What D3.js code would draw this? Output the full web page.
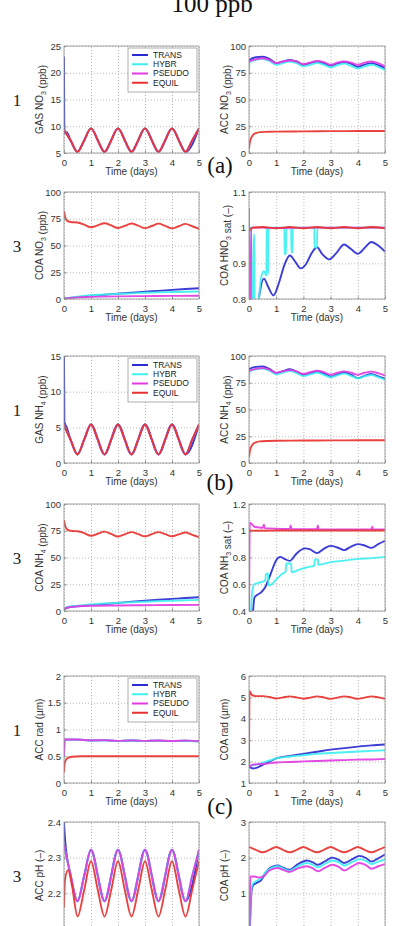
<!DOCTYPE html>
<html>
<head>
<meta charset="utf-8">
<script src="https://cdn.jsdelivr.net/npm/d3@7"></script>
<style>
  body { margin: 0; background: #fff; }
  svg { display: block; }
</style>
</head>
<body>
<div id="fig"></div>
<script>
// quarter-day time grid used by the periodic curves
const tq = [0, 0.25, 0.5, 0.75, 1, 1.25, 1.5, 1.75, 2, 2.25, 2.5, 2.75, 3, 3.25, 3.5, 3.75, 4, 4.25, 4.5, 4.75, 5];
const zip = (t, v) => t.map((d, i) => [d, v[i]]);

const seriesNames = ["TRANS", "HYBR", "PSEUDO", "EQUIL"];
const seriesColors = ["#2b2bd2", "#3ff0f0", "#e23ce2", "#e8322f"];
const xTicks = [0, 1, 2, 3, 4, 5];

// ---- (a) nitrate ----
const gasNO3Equil = zip(tq, [9.3, 7.3, 5.2, 7.4, 9.6, 7.4, 5.2, 7.4, 9.6, 7.4, 5.2, 7.4, 9.6, 7.4, 5.2, 7.4, 9.6, 7.4, 5.2, 7.4, 9.6]);
const gasNO3Trans = [[0, 23], [0.015, 8.7], [0.1, 8.9], [0.25, 7.3], [0.5, 5.2], [0.75, 7.4], [1, 9.6], [1.5, 5.2], [2, 9.6], [2.5, 5.2], [3, 9.6], [3.5, 5.2], [4, 9.6], [4.5, 5.2], [5, 9.6]];

const accNO3Trans = [[0, 75], [0.01, 87], [0.25, 89.5], [0.5, 90], [0.75, 88], [1, 84], [1.25, 85.5], [1.5, 87], [1.75, 85.5], [2, 82.5], [2.25, 84], [2.5, 85.5], [2.75, 84], [3, 81.5], [3.25, 83.5], [3.5, 85], [3.75, 83.5], [4, 80.5], [4.25, 82.5], [4.5, 84], [4.75, 82], [5, 79.5]];
const accNO3Hybr = [[0, 74], [0.01, 85], [0.25, 87], [0.5, 88], [0.75, 86], [1, 82.5], [1.25, 84], [1.5, 85.5], [1.75, 84], [2, 81], [2.25, 82.5], [2.5, 84], [2.75, 82.5], [3, 80], [3.25, 82], [3.5, 83.5], [3.75, 81.5], [4, 79], [4.25, 81], [4.5, 82.5], [4.75, 80.5], [5, 77.5]];
const accNO3Pseudo = [[0, 84], [0.01, 85.5], [0.25, 87.5], [0.5, 88.5], [0.75, 87], [1, 84], [1.25, 85.5], [1.5, 86.5], [1.75, 85.5], [2, 83], [2.25, 84.5], [2.5, 86], [2.75, 85], [3, 82.5], [3.25, 84.5], [3.5, 85.5], [3.75, 84.5], [4, 82.5], [4.25, 84.5], [4.5, 85.5], [4.75, 84], [5, 81]];
const accNO3Equil = [[0, 4], [0.03, 10], [0.08, 14], [0.15, 17], [0.25, 18.5], [0.4, 19.5], [0.7, 19.8], [1, 20], [2, 20.2], [3, 20.4], [4, 20.5], [5, 20.5]];

const coaNO3Trans = [[0, 0.5], [0.5, 1.8], [1, 3], [1.5, 4], [2, 5], [2.5, 5.9], [3, 6.8], [3.5, 7.6], [4, 8.5], [4.5, 9.3], [5, 10]];
const coaNO3Hybr = [[0, 0.5], [0.5, 2.2], [1, 3.5], [1.5, 4.2], [2, 4.8], [2.5, 5.3], [3, 5.8], [3.5, 6.2], [4, 6.5], [4.5, 6.8], [5, 7]];
const coaNO3Pseudo = [[0, 0.3], [0.5, 1.5], [1, 2], [2, 2.5], [3, 2.7], [4, 2.9], [5, 3]];
const coaNO3Equil = [[0, 82], [0.04, 77], [0.12, 73], [0.25, 72], [0.5, 71.5], [0.75, 69.5], [1, 67], [1.25, 68.8], [1.5, 70.8], [1.75, 68.8], [2, 66.3], [2.25, 68.3], [2.5, 70.6], [2.75, 68.5], [3, 66.2], [3.25, 68.2], [3.5, 70.4], [3.75, 68.3], [4, 66], [4.25, 68], [4.5, 70.2], [4.75, 68], [5, 65.6]];

const satHNO3Trans = [[0, 0.6], [0.3, 0.76], [0.4, 0.82], [0.55, 0.857], [0.7, 0.835], [0.9, 0.81], [1.1, 0.845], [1.3, 0.895], [1.5, 0.922], [1.7, 0.905], [1.9, 0.886], [2.1, 0.898], [2.3, 0.928], [2.5, 0.945], [2.7, 0.925], [2.95, 0.911], [3.2, 0.928], [3.5, 0.953], [3.75, 0.94], [4, 0.927], [4.25, 0.943], [4.5, 0.96], [4.75, 0.95], [5, 0.933]];
const satHNO3Hybr = [[0, 1.0], [0.09, 1.0], [0.1, 0.7], [0.16, 0.7], [0.17, 0.98], [0.2, 0.98], [0.21, 0.7], [0.35, 0.79], [0.45, 0.862], [0.55, 0.878], [0.64, 0.865], [0.65, 1.0], [0.68, 1.0], [0.69, 0.87], [0.71, 0.87], [0.72, 1.0], [1.3, 1.0], [1.31, 0.925], [1.36, 0.925], [1.37, 1.0], [1.55, 1.0], [1.56, 0.93], [1.6, 0.93], [1.61, 1.0], [2.4, 1.0], [2.41, 0.945], [2.5, 0.945], [2.51, 1.0], [5, 1.0]];
const satHNO3Pseudo = [[0, 1.055], [0.02, 0.75], [0.06, 0.75], [0.08, 1.0], [0.5, 1.0], [1, 0.999], [2, 1.0], [3, 1.0], [4, 1.0], [5, 1.0]];
const satHNO3Equil = [[0, 0.99], [0.05, 0.996], [0.15, 1.0], [0.5, 1.002], [1, 0.998], [1.5, 1.002], [2, 0.998], [2.5, 1.002], [3, 0.998], [3.5, 1.002], [4, 0.998], [4.5, 1.002], [5, 0.998]];

// ---- (b) ammonium ----
const gasNH4Equil = zip(tq, [5.3, 3.2, 1.2, 3.3, 5.4, 3.3, 1.2, 3.3, 5.4, 3.3, 1.2, 3.3, 5.4, 3.3, 1.2, 3.3, 5.4, 3.3, 1.2, 3.3, 5.4]);
const gasNH4Trans = [[0, 15], [0.015, 5.8], [0.1, 5.0], [0.25, 3.2], [0.5, 1.2], [0.75, 3.3], [1, 5.4], [1.5, 1.2], [2, 5.4], [2.5, 1.2], [3, 5.4], [3.5, 1.2], [4, 5.4], [4.5, 1.2], [5, 5.4]];

const accNH4Trans = [[0, 75], [0.01, 87.6], [0.25, 89.8], [0.5, 90.2], [0.75, 88], [1, 84], [1.25, 85.8], [1.5, 87.6], [1.75, 85.5], [2, 82.4], [2.25, 84], [2.5, 85.5], [2.75, 83.6], [3, 80.8], [3.25, 82.8], [3.5, 84.6], [3.75, 82.5], [4, 79.3], [4.25, 81.5], [4.5, 83.3], [4.75, 81], [5, 78.8]];
const accNH4Hybr = [[0, 75], [0.01, 85.5], [0.25, 87.5], [0.5, 88.3], [0.75, 86.3], [1, 82.8], [1.25, 84.5], [1.5, 86], [1.75, 84], [2, 81.2], [2.25, 82.8], [2.5, 84.2], [2.75, 82.4], [3, 80], [3.25, 81.9], [3.5, 83.5], [3.75, 81.5], [4, 79], [4.25, 80.9], [4.5, 82.3], [4.75, 80.2], [5, 77.8]];
const accNH4Pseudo = [[0, 85], [0.01, 86], [0.25, 88], [0.5, 88.8], [0.75, 87.2], [1, 84.3], [1.25, 85.8], [1.5, 86.8], [1.75, 85.6], [2, 83.2], [2.25, 84.8], [2.5, 86.2], [2.75, 85], [3, 82.6], [3.25, 84.4], [3.5, 85.6], [3.75, 84.4], [4, 82.4], [4.25, 84.3], [4.5, 85.4], [4.75, 84], [5, 81.8]];
const accNH4Equil = [[0, 5], [0.03, 11], [0.08, 15], [0.15, 17.8], [0.25, 19.3], [0.4, 20.2], [0.7, 20.6], [1, 20.8], [2, 21], [3, 21.1], [4, 21.2], [5, 21.2]];

const coaNH4Trans = [[0, 1], [0.1, 3], [0.5, 4.5], [1, 5.5], [1.5, 6.5], [2, 7.6], [2.5, 8.6], [3, 9.6], [3.5, 10.5], [4, 11.3], [4.5, 12.1], [5, 12.8]];
const coaNH4Hybr = [[0, 1.5], [0.1, 3.5], [0.5, 5], [1, 6.2], [1.5, 7], [2, 7.6], [2.5, 8.2], [3, 8.7], [3.5, 9.2], [4, 9.6], [4.5, 10], [5, 10.4]];
const coaNH4Pseudo = [[0, 1], [0.1, 3], [0.5, 4.4], [1, 4.9], [2, 5.2], [3, 5.4], [4, 5.6], [5, 5.7]];
const coaNH4Equil = [[0, 85], [0.05, 79], [0.15, 75.5], [0.3, 74.8], [0.5, 74.5], [0.75, 72.8], [1, 70.3], [1.25, 72.2], [1.5, 74.2], [1.75, 72], [2, 69.6], [2.25, 71.6], [2.5, 73.7], [2.75, 71.8], [3, 69.8], [3.25, 71.8], [3.5, 73.7], [3.75, 71.8], [4, 69.8], [4.25, 71.6], [4.5, 73.4], [4.75, 71.2], [5, 69]];

const satNH3Trans = [[0, 0.1], [0.14, 0.38], [0.2, 0.5], [0.3, 0.52], [0.45, 0.54], [0.6, 0.58], [0.8, 0.68], [1, 0.78], [1.15, 0.805], [1.3, 0.79], [1.5, 0.775], [1.75, 0.83], [2.05, 0.868], [2.25, 0.86], [2.5, 0.833], [2.75, 0.865], [3, 0.887], [3.25, 0.875], [3.5, 0.855], [3.75, 0.882], [4, 0.9], [4.25, 0.89], [4.5, 0.872], [4.75, 0.9], [5, 0.925]];
const satNH3Hybr = [[0, 0.2], [0.06, 0.35], [0.12, 0.55], [0.2, 0.6], [0.35, 0.61], [0.5, 0.62], [0.6, 0.63], [0.62, 0.675], [0.7, 0.68], [0.72, 0.59], [0.8, 0.595], [1, 0.635], [1.2, 0.675], [1.35, 0.695], [1.37, 0.755], [1.55, 0.755], [1.57, 0.69], [1.8, 0.705], [2.1, 0.725], [2.4, 0.74], [2.42, 0.785], [2.53, 0.785], [2.55, 0.745], [3, 0.765], [3.5, 0.777], [4, 0.79], [4.5, 0.795], [5, 0.805]];
const satNH3Pseudo = [[0, 0.3], [0.03, 1.06], [0.1, 1.05], [0.2, 1.03], [0.35, 1.025], [0.5, 1.022], [0.55, 1.045], [0.58, 1.02], [1, 1.015], [1.5, 1.013], [1.53, 1.04], [1.56, 1.013], [2.5, 1.012], [2.53, 1.04], [2.56, 1.012], [3.5, 1.01], [4.5, 1.01], [4.53, 1.03], [4.56, 1.01], [5, 1.01]];
const satNH3Equil = [[0.03, 0.99], [0.05, 1.0], [1, 1.002], [2, 1.002], [3, 1.002], [4, 1.002], [5, 1.002]];

// ---- (c) radius and pH ----
const accRadTrans = [[0, 0.5], [0.02, 0.81], [0.5, 0.81], [1, 0.795], [1.5, 0.8], [2, 0.785], [2.5, 0.795], [3, 0.785], [3.5, 0.792], [4, 0.782], [4.5, 0.79], [5, 0.78]];
const accRadPseudo = [[0, 0.5], [0.02, 0.815], [0.5, 0.812], [1, 0.797], [1.5, 0.802], [2, 0.788], [2.5, 0.797], [3, 0.788], [3.5, 0.794], [4, 0.785], [4.5, 0.792], [5, 0.783]];
const accRadEquil = [[0, 0.2], [0.03, 0.38], [0.08, 0.44], [0.15, 0.47], [0.3, 0.49], [0.6, 0.5], [1, 0.5], [2, 0.5], [3, 0.5], [4, 0.5], [5, 0.5]];

const coaRadTrans = [[0, 1.75], [0.15, 1.68], [0.3, 1.72], [0.5, 1.85], [0.75, 2.0], [1, 2.15], [1.5, 2.27], [2, 2.36], [2.5, 2.46], [3, 2.56], [3.5, 2.63], [4, 2.7], [4.5, 2.76], [5, 2.8]];
const coaRadHybr = [[0, 1.8], [0.25, 1.85], [0.5, 1.95], [0.75, 2.05], [1, 2.15], [1.5, 2.24], [2, 2.3], [2.5, 2.36], [3, 2.4], [3.5, 2.44], [4, 2.47], [4.5, 2.5], [5, 2.53]];
const coaRadPseudo = [[0, 1.72], [0.1, 1.85], [0.3, 1.88], [0.6, 1.9], [1, 1.96], [1.5, 1.98], [2, 2.01], [2.5, 2.03], [3, 2.05], [3.5, 2.07], [4, 2.09], [4.5, 2.1], [5, 2.12]];
const coaRadEquil = [[0, 1.75], [0.02, 5.3], [0.1, 5.12], [0.25, 5.06], [0.5, 5.06], [0.75, 5.02], [1, 4.95], [1.25, 5.0], [1.5, 5.05], [1.75, 5.0], [2, 4.94], [2.25, 4.99], [2.5, 5.05], [2.75, 5.0], [3, 4.93], [3.25, 4.99], [3.5, 5.05], [3.75, 5.0], [4, 4.93], [4.25, 4.99], [4.5, 5.05], [4.75, 5.0], [5, 4.93]];

const accPHPseudo = zip(tq, [2.335, 2.25, 2.178, 2.25, 2.322, 2.25, 2.178, 2.25, 2.322, 2.25, 2.178, 2.25, 2.322, 2.25, 2.178, 2.25, 2.322, 2.25, 2.178, 2.25, 2.322]);
const accPHTrans = [[0, 2.4], [0.04, 2.35], [0.25, 2.25], [0.5, 2.178], [0.75, 2.25], [1, 2.322], [1.5, 2.178], [2, 2.322], [2.5, 2.178], [3, 2.322], [3.5, 2.178], [4, 2.322], [4.5, 2.178], [5, 2.322]];
const accPHEquil = [[0, 2.16], [0.04, 2.24], [0.15, 2.265], [0.3, 2.22], [0.5, 2.135], [0.75, 2.21], [1, 2.29], [1.25, 2.21], [1.5, 2.135], [1.75, 2.21], [2, 2.29], [2.25, 2.21], [2.5, 2.135], [2.75, 2.21], [3, 2.29], [3.25, 2.21], [3.5, 2.135], [3.75, 2.21], [4, 2.29], [4.25, 2.21], [4.5, 2.135], [4.75, 2.21], [5, 2.29]];

const coaPHTrans = [[0.02, -0.3], [0.06, 0.6], [0.1, 1.1], [0.15, 1.22], [0.3, 1.3], [0.45, 1.37], [0.63, 1.6], [0.81, 1.73], [1.06, 1.78], [1.25, 1.72], [1.48, 1.66], [1.8, 1.82], [2.13, 1.92], [2.35, 1.87], [2.53, 1.8], [2.8, 1.9], [3.06, 2.0], [3.3, 1.94], [3.5, 1.85], [3.8, 1.96], [4.06, 2.05], [4.3, 1.99], [4.5, 1.89], [4.75, 1.98], [5, 2.09]];
const coaPHHybr = [[0.02, -0.3], [0.05, 0.6], [0.09, 1.15], [0.15, 1.28], [0.3, 1.36], [0.45, 1.42], [0.6, 1.58], [0.8, 1.7], [1.06, 1.76], [1.25, 1.7], [1.48, 1.63], [1.8, 1.76], [2.13, 1.85], [2.35, 1.8], [2.53, 1.73], [2.8, 1.83], [3.06, 1.92], [3.3, 1.87], [3.5, 1.78], [3.8, 1.88], [4.06, 1.96], [4.3, 1.91], [4.5, 1.82], [4.75, 1.89], [5, 1.95]];
const coaPHPseudo = [[0.02, -0.3], [0.035, 1.0], [0.05, 1.47], [0.2, 1.47], [0.37, 1.44], [0.56, 1.49], [0.75, 1.64], [1.06, 1.71], [1.25, 1.66], [1.48, 1.6], [1.8, 1.7], [2.13, 1.76], [2.35, 1.7], [2.53, 1.62], [2.8, 1.72], [3.06, 1.8], [3.3, 1.74], [3.5, 1.64], [3.8, 1.76], [4.06, 1.85], [4.3, 1.79], [4.5, 1.69], [4.75, 1.76], [5, 1.82]];
const coaPHEquil = zip(tq, [2.3, 2.22, 2.15, 2.22, 2.3, 2.22, 2.15, 2.22, 2.3, 2.22, 2.15, 2.22, 2.3, 2.22, 2.15, 2.22, 2.3, 2.22, 2.15, 2.22, 2.3]);

// panel definitions: series order = TRANS, HYBR, PSEUDO, EQUIL
const panels = [
  { row: 0, col: 0, yDomain: [5, 25], yTicks: [5, 10, 15, 20, 25], label: "GAS NO_3 (ppb)", legend: true,
    series: [gasNO3Trans, gasNO3Equil, gasNO3Equil, gasNO3Equil] },
  { row: 0, col: 1, yDomain: [0, 100], yTicks: [0, 25, 50, 75, 100], label: "ACC NO_3 (ppb)",
    series: [accNO3Trans, accNO3Hybr, accNO3Pseudo, accNO3Equil] },
  { row: 1, col: 0, yDomain: [0, 100], yTicks: [0, 25, 50, 75, 100], label: "COA NO_3 (ppb)",
    series: [coaNO3Trans, coaNO3Hybr, coaNO3Pseudo, coaNO3Equil] },
  { row: 1, col: 1, yDomain: [0.8, 1.1], yTicks: [0.8, 0.9, 1, 1.1], label: "COA HNO_3 sat (\u2013)",
    series: [satHNO3Trans, satHNO3Hybr, satHNO3Pseudo, satHNO3Equil] },
  { row: 2, col: 0, yDomain: [0, 15], yTicks: [0, 5, 10, 15], label: "GAS NH_4 (ppb)", legend: true,
    series: [gasNH4Trans, gasNH4Equil, gasNH4Equil, gasNH4Equil] },
  { row: 2, col: 1, yDomain: [0, 100], yTicks: [0, 25, 50, 75, 100], label: "ACC NH_4 (ppb)",
    series: [accNH4Trans, accNH4Hybr, accNH4Pseudo, accNH4Equil] },
  { row: 3, col: 0, yDomain: [0, 100], yTicks: [0, 25, 50, 75, 100], label: "COA NH_4 (ppb)",
    series: [coaNH4Trans, coaNH4Hybr, coaNH4Pseudo, coaNH4Equil] },
  { row: 3, col: 1, yDomain: [0.4, 1.2], yTicks: [0.4, 0.6, 0.8, 1, 1.2], label: "COA NH_3 sat (\u2013)",
    series: [satNH3Trans, satNH3Hybr, satNH3Pseudo, satNH3Equil] },
  { row: 4, col: 0, yDomain: [0, 2], yTicks: [0, 0.5, 1, 1.5, 2], label: "ACC rad (\u00b5m)", legend: true,
    series: [accRadTrans, accRadTrans, accRadPseudo, accRadEquil] },
  { row: 4, col: 1, yDomain: [1, 6], yTicks: [1, 2, 3, 4, 5, 6], label: "COA rad (\u00b5m)",
    series: [coaRadTrans, coaRadHybr, coaRadPseudo, coaRadEquil] },
  { row: 5, col: 0, yDomain: [2.1, 2.4], yTicks: [2.1, 2.2, 2.3, 2.4], label: "ACC pH (\u2013)",
    series: [accPHTrans, accPHPseudo, accPHPseudo, accPHEquil] },
  { row: 5, col: 1, yDomain: [0, 3], yTicks: [0, 1, 2, 3], label: "COA pH (\u2013)",
    series: [coaPHTrans, coaPHHybr, coaPHPseudo, coaPHEquil] },
];

const rowNumbers = ["1", "3", "1", "3", "1", "3"];
const groupLabels = ["(a)", "(b)", "(c)"];

// layout
const width = 401, height = 926;
const rowTops = [46, 192, 356, 504, 676, 822];
const plotH = 107;
const colLeft = [64, 249];
const colW = [135, 136];
const groupLabelY = [173, 490, 814];

const sans = "'Liberation Sans', Arial, Helvetica, sans-serif";
const serif = "'Liberation Serif', 'Times New Roman', Times, serif";
const fmt = d3.format("~g");

const svg = d3.select("#fig").append("svg")
  .attr("width", width)
  .attr("height", height)
  .attr("viewBox", [0, 0, width, height]);

svg.append("text")
  .attr("x", 212).attr("y", 12)
  .attr("text-anchor", "middle")
  .style("font-family", serif).style("font-size", "25px").attr("fill", "#111")
  .text("100 ppb");

rowNumbers.forEach((t, i) => {
  svg.append("text")
    .attr("x", 17).attr("y", rowTops[i] + plotH / 2 + 6)
    .attr("text-anchor", "middle")
    .style("font-family", serif).style("font-size", "17px").attr("fill", "#222")
    .text(t);
});

groupLabels.forEach((t, i) => {
  svg.append("text")
    .attr("x", 220).attr("y", groupLabelY[i])
    .attr("text-anchor", "middle")
    .style("font-family", serif).style("font-size", "23px").attr("fill", "#111")
    .text(t);
});

const line = d3.line().curve(d3.curveMonotoneX);

panels.forEach((p, pi) => {
  const x0 = colLeft[p.col], y0 = rowTops[p.row], w = colW[p.col], h = plotH;
  const x = d3.scaleLinear().domain([0, 5]).range([0, w]);
  const y = d3.scaleLinear().domain(p.yDomain).range([h, 0]);
  const g = svg.append("g").attr("transform", `translate(${x0},${y0})`);

  g.append("rect").attr("width", w).attr("height", h).attr("fill", "#fff");

  // dotted grid
  g.append("g")
    .attr("class", "grid")
    .call(d3.axisLeft(y).tickValues(p.yTicks).tickSize(-w).tickFormat(""))
    .call((s) => s.select(".domain").remove());
  g.append("g")
    .attr("class", "grid")
    .attr("transform", `translate(0,${h})`)
    .call(d3.axisBottom(x).tickValues(xTicks).tickSize(-h).tickFormat(""))
    .call((s) => s.select(".domain").remove());
  g.selectAll(".grid line")
    .attr("stroke", "#a8a8a8")
    .attr("stroke-width", 0.8)
    .attr("stroke-dasharray", "1,2");

  // curves
  const clipId = "clip" + pi;
  g.append("clipPath").attr("id", clipId)
    .append("rect").attr("width", w).attr("height", h);
  const lines = g.append("g").attr("clip-path", `url(#${clipId})`);
  line.x((d) => x(d[0])).y((d) => y(d[1]));
  p.series.forEach((s, si) => {
    lines.append("path")
      .attr("d", line(s))
      .attr("fill", "none")
      .attr("stroke", seriesColors[si])
      .attr("stroke-width", 1.9)
      .attr("stroke-linejoin", "round")
      .attr("stroke-opacity", 0.92);
  });

  // axes with small inward ticks
  const ax = g.append("g")
    .attr("transform", `translate(0,${h})`)
    .call(d3.axisBottom(x).tickValues(xTicks).tickSizeInner(-2.5).tickSizeOuter(0).tickPadding(4).tickFormat(fmt));
  const ay = g.append("g")
    .call(d3.axisLeft(y).tickValues(p.yTicks).tickSizeInner(-2.5).tickSizeOuter(0).tickPadding(3).tickFormat(fmt));
  [ax, ay].forEach((a) => {
    a.select(".domain").remove();
    a.selectAll("line").attr("stroke", "#888");
    a.selectAll("text")
      .style("font-family", sans).style("font-size", "9.5px").attr("fill", "#333");
  });
  ax.selectAll("text").attr("y", 6);

  g.append("rect")
    .attr("width", w).attr("height", h)
    .attr("fill", "none").attr("stroke", "#999").attr("stroke-width", 0.9);

  // x label
  g.append("text")
    .attr("x", w / 2).attr("y", h + 22)
    .attr("text-anchor", "middle")
    .style("font-family", sans).style("font-size", "10px").attr("fill", "#333")
    .text("Time (days)");

  // y label with subscript
  const yl = g.append("text")
    .attr("transform", `translate(-21,${h / 2}) rotate(-90)`)
    .attr("text-anchor", "middle")
    .style("font-family", sans).style("font-size", "10px").attr("fill", "#333");
  p.label.split(/_(\d)/).forEach((part, k) => {
    if (!part) return;
    if (k % 2 === 1) {
      yl.append("tspan").attr("dy", 2.5).style("font-size", "7px").text(part);
      yl.append("tspan").attr("dy", -2.5).text("");
    } else {
      yl.append("tspan").text(part);
    }
  });

  // legend
  if (p.legend) {
    const lg = g.append("g").attr("transform", `translate(64,2)`);
    lg.append("rect")
      .attr("width", 69).attr("height", 44)
      .attr("fill", "#fff").attr("stroke", "#999").attr("stroke-width", 0.8);
    seriesNames.forEach((n, i) => {
      const ly = 7 + i * 9.25;
      lg.append("line")
        .attr("x1", 4).attr("x2", 20).attr("y1", ly).attr("y2", ly)
        .attr("stroke", seriesColors[i]).attr("stroke-width", 2);
      lg.append("text")
        .attr("x", 25).attr("y", ly).attr("dy", "0.35em")
        .style("font-family", sans).style("font-size", "8.5px").attr("fill", "#222")
        .text(n);
    });
  }
});
</script>
</body>
</html>
